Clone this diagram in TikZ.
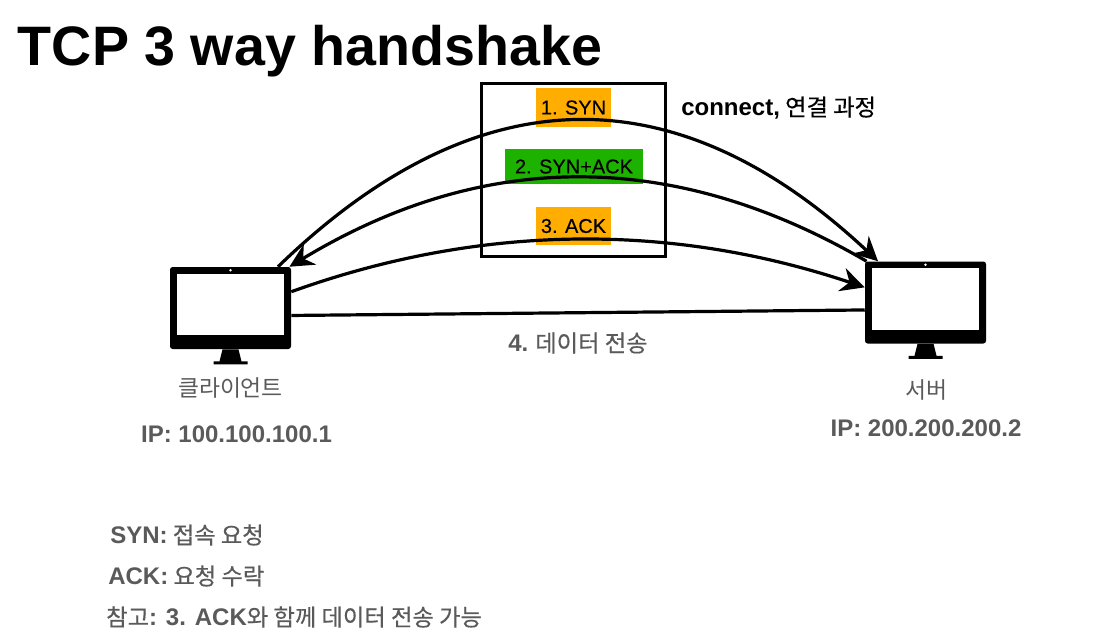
\documentclass[tikz,border=0pt]{standalone}
\usepackage{fontspec}
\setmainfont[Scale=0.97, FakeBold=0.5]{Noto Sans CJK KR}
\newfontfamily\krlight[Scale=0.95]{Noto Sans CJK KR}
\newfontfamily\latfont{Liberation Sans}
\newfontfamily\flagfont[FakeBold=0.3]{Liberation Sans}
\usetikzlibrary{arrows.meta,positioning,calc}
\definecolor{synorange}{HTML}{FFAD00}
\definecolor{ackgreen}{HTML}{1DB100}
\definecolor{notegray}{HTML}{5A5A5A}

\begin{document}
\begin{tikzpicture}[x=0.75pt, y=-0.75pt, node distance=12pt]
    \tikzstyle{monitor} = [rectangle, fill=black, minimum width=90.75pt, minimum height=61.5pt, inner sep=0pt, rounded corners=2pt]
    \tikzstyle{flag} = [rectangle, inner sep=0pt, minimum height=29pt, text=black, font=\fontsize{15}{18}\selectfont\flagfont]
    \tikzstyle{note} = [text=notegray, inner sep=0pt, font=\fontsize{18}{22}\selectfont]
    \tikzstyle{wire} = [line width=2.4pt, black]
    \tikzstyle{arrow} = [wire, -{Stealth[length=18pt, width=18pt, inset=6pt]}]
    \useasboundingbox (0,0) rectangle (1113,637);

    \node[inner sep=0pt, font=\fontsize{41.7}{48}\selectfont\latfont\bfseries] (title) at (310,51) {TCP 3 way handshake};

    % the two computers
    \node[monitor] (client) at (230.5,308) {};
    \node[monitor] (server) at (925.5,302.5) {};
    \foreach \mon in {client,server} {
        \fill[white] ($(\mon.north west)+(7,7)$) rectangle ($(\mon.south east)+(-7,-14)$);
        \fill[white] ($(\mon.north)+(0,3.5)$) circle (1pt);
        \fill ($(\mon.south)+(-8,0)$) -- ($(\mon.south)+(8,0)$) -- ($(\mon.south)+(11,12)$) -- ($(\mon.south)+(17,12)$) -- ($(\mon.south)+(17,15)$) -- ($(\mon.south)+(-17,15)$) -- ($(\mon.south)+(-17,12)$) -- ($(\mon.south)+(-11,12)$) -- cycle;
    }

    % handshake labels
    \node[flag, fill=synorange, minimum width=56.25pt] (syn) at (573.5,107.5) {1. SYN};
    \node[flag, fill=ackgreen, minimum width=103.5pt, minimum height=26.25pt] (synack) at (574,166.5) {2. SYN+ACK};
    \node[flag, fill=synorange, minimum width=56.25pt] (ack) at (573.5,226) {3. ACK};
    \node[draw, line width=2.6pt, minimum width=138pt, minimum height=130pt, inner sep=0pt] (group) at (573.5,170) {};

    \draw[arrow] (client.41) .. controls (477,74) and (676,72) .. (server.139);
    \draw[arrow] (server.145) .. controls (674,149) and (484,149) .. (client.35);
    \draw[arrow] (client.15.7) .. controls (482,223) and (673,223) .. (server.166.5);
    \draw[wire] (client.-7) -- (server.187);

    \node[inner sep=0pt, font=\fontsize{18}{22}\selectfont, anchor=west] (connect) at (681,108) {{\latfont\bfseries connect,} 연결 과정};
    \node[note] (data) at (578,343) {{\latfont\bfseries 4.} 데이터 전송};

    \node[note] (clientname) at (230.5,388) {\krlight 클라이언트};
    \node[note] (clientip) at (236.5,434) {\latfont\bfseries IP: 100.100.100.1};
    \node[note] (servername) at (926.5,390) {\krlight 서버};
    \node[note] (serverip) at (926,428) {\latfont\bfseries IP: 200.200.200.2};

    % legend
    \node[note, anchor=west] (legsyn) at (110,535) {{\latfont\bfseries SYN:} 접속 요청};
    \node[note, anchor=west] (legack) at (108,576) {{\latfont\bfseries ACK:} 요청 수락};
    \node[note, anchor=west] (legnote) at (106,617) {참고{\latfont\bfseries : 3. ACK}와 함께 데이터 전송 가능};
\end{tikzpicture}
\end{document}
